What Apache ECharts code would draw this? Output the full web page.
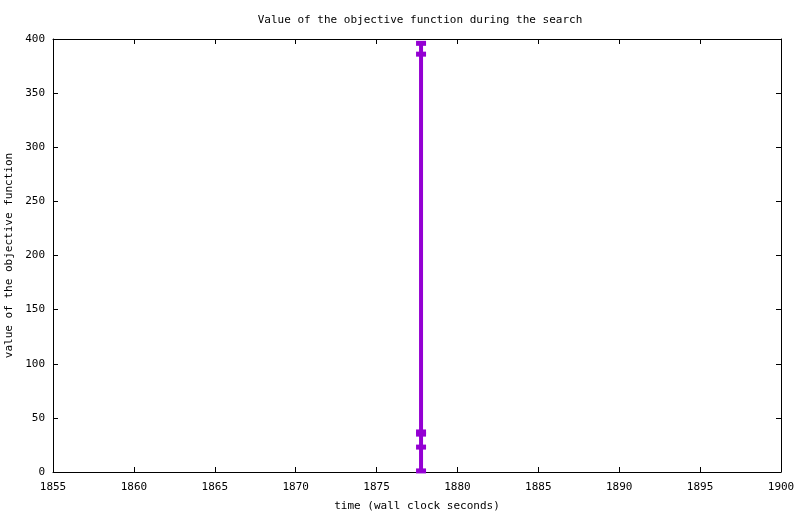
<!DOCTYPE html>
<html>
<head>
<meta charset="utf-8">
<script src="https://cdn.jsdelivr.net/npm/echarts@6/dist/echarts.min.js"></script>
<style>
    html, body { margin: 0; padding: 0; background: #fff; }
    #chart { width: 800px; height: 514px; }
</style>
</head>
<body>
<div id="chart"></div>
<script>
    // 数据：搜索过程中目标函数的取值
    var timeSeconds = [1877.75, 1877.75, 1877.75, 1877.75, 1877.75, 1877.75];
    var objectiveValues = [396, 386, 37, 35, 23, 1];
    var xTicks = [1855, 1860, 1865, 1870, 1875, 1880, 1885, 1890, 1895, 1900];
    var yTicks = [0, 50, 100, 150, 200, 250, 300, 350, 400];

    var font = 'DejaVu Sans Mono';
    var points = [];
    for (var i = 0; i < timeSeconds.length; i++) {
        points.push([timeSeconds[i], objectiveValues[i]]);
    }

    function xAxisOf (pos, labels) {
        return {
            type: 'value',
            position: pos,
            min: xTicks[0],
            max: xTicks[xTicks.length - 1],
            interval: xTicks[1] - xTicks[0],
            axisLine: { show: true, onZero: false, lineStyle: { color: '#000', width: 1 } },
            axisTick: { show: true, inside: true, length: 5, lineStyle: { color: '#000' } },
            axisLabel: {
                show: labels, color: '#000', fontFamily: font, fontSize: 11, margin: 10,
                formatter: function (v) { return String(v); }
            },
            splitLine: { show: false },
            name: labels ? 'time (wall clock seconds)' : '',
            nameLocation: 'middle',
            nameGap: 29,
            nameTextStyle: { color: '#000', fontFamily: font, fontSize: 11 }
        };
    }

    function yAxisOf (pos, labels) {
        return {
            type: 'value',
            position: pos,
            min: yTicks[0],
            max: yTicks[yTicks.length - 1],
            interval: yTicks[1] - yTicks[0],
            axisLine: { show: true, onZero: false, lineStyle: { color: '#000', width: 1 } },
            axisTick: { show: true, inside: true, length: 5, lineStyle: { color: '#000' } },
            axisLabel: {
                show: labels, color: '#000', fontFamily: font, fontSize: 11, margin: 8,
                formatter: function (v) { return String(v); }
            },
            splitLine: { show: false },
            name: labels ? 'value of the objective function' : '',
            nameLocation: 'middle',
            nameGap: 36,
            nameTextStyle: { color: '#000', fontFamily: font, fontSize: 11 }
        };
    }

    var chart = echarts.init(document.getElementById('chart'));
    var option = {
        backgroundColor: '#fff',
        animation: false,
        title: {
            text: 'Value of the objective function during the search',
            left: 415,
            textAlign: 'center',
            top: 10,
            textStyle: { color: '#000', fontFamily: font, fontSize: 11, fontWeight: 'normal' }
        },
        grid: { left: 53, right: 19, top: 39, bottom: 42, containLabel: false, outerBoundsMode: 'none' },
        xAxis: [xAxisOf('bottom', true), xAxisOf('top', false)],
        yAxis: [yAxisOf('left', true), yAxisOf('right', false)],
        series: [
            {
                type: 'line',
                data: points,
                xAxisIndex: 0,
                yAxisIndex: 0,
                symbol: 'rect',
                symbolSize: [10, 5],
                showAllSymbol: true,
                lineStyle: { color: '#9400d3', width: 4 },
                itemStyle: { color: '#9400d3' }
            }
        ]
    };
    chart.setOption(option);
</script>
</body>
</html>
